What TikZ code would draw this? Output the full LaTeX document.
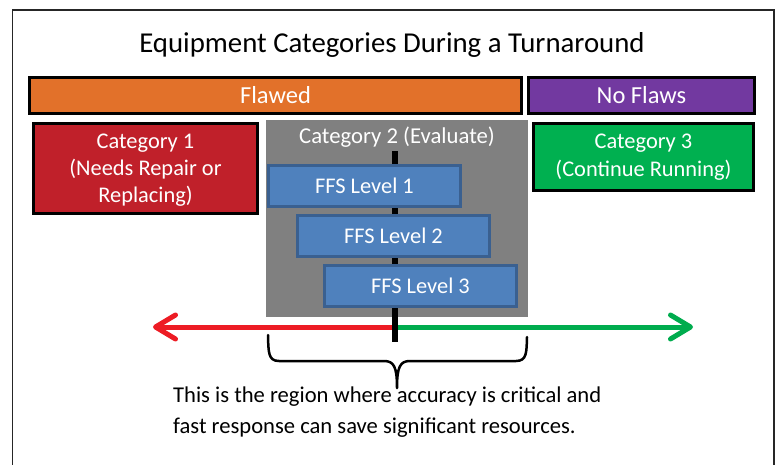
\documentclass[tikz,border=0pt]{standalone}
\usepackage{fontspec}
\setmainfont{Carlito}
\usetikzlibrary{arrows.meta}

\definecolor{flawedorange}{HTML}{E2712A}
\definecolor{noflawpurple}{HTML}{7239A0}
\definecolor{catred}{HTML}{C0202A}
\definecolor{catgreen}{HTML}{00B050}
\definecolor{evalgrey}{HTML}{808080}
\definecolor{ffsblue}{HTML}{4F81BD}
\definecolor{ffsedge}{HTML}{3A6090}
\definecolor{arrowred}{HTML}{ED1C24}
\definecolor{arrowgreen}{HTML}{00AC4E}

\begin{document}
\begin{tikzpicture}[x=1pt,y=-1pt,
  band/.style={draw=black, line width=3pt, text=white, inner sep=0pt,
    align=center, font=\fontsize{24.5}{28}\selectfont},
  catbox/.style={draw=black, line width=3pt, text=white, inner sep=0pt,
    align=center, font=\fontsize{22.4}{27.5}\selectfont},
  ffsbox/.style={draw=ffsedge, fill=ffsblue, line width=3pt, text=white,
    inner sep=0pt, minimum width=192pt, minimum height=41pt,
    font=\fontsize{22.4}{26}\selectfont},
  scalearrow/.style={line width=5pt,
    -{Straight Barb[length=20pt,width=24pt,round]}},
  notetext/.style={anchor=base west, inner sep=0pt,
    font=\fontsize{22.6}{31}\selectfont}]

\useasboundingbox (0,0) rectangle (781,464);
\clip (0,0) rectangle (781,464);

% outer frame (runs past the lower edge)
\draw[line width=1.5pt, black!85] (12.5,10) rectangle (774,490);

% title
\node[anchor=base, inner sep=0pt, font=\fontsize{28.8}{32}\selectfont]
  (title) at (392,52.7) {Equipment Categories During a Turnaround};

% top bands
\node[band, fill=flawedorange, minimum width=492pt, minimum height=36pt]
  (flawed) at (275.5,95.5) {Flawed};
\node[band, fill=noflawpurple, minimum width=226pt, minimum height=36pt]
  (noflaws) at (641.5,95.5) {No Flaws};

% categories
\node[catbox, fill=catred, minimum width=224pt, minimum height=90pt]
  (cat1) at (145.5,168) {};
\node[anchor=base, inner sep=0pt, text=white, align=center,
  font=\fontsize{22.4}{27}\selectfont]
  (cat1label) at (145.5,202) {Category 1\\(Needs Repair or\\Replacing)};
\node[fill=evalgrey, inner sep=0pt, minimum width=262pt, minimum height=197pt]
  (cat2) at (397,218.5) {};
\node[anchor=base, inner sep=0pt, text=white, font=\fontsize{22.7}{26}\selectfont]
  (cat2label) at (397,143) {Category 2 (Evaluate)};
\node[catbox, fill=catgreen, minimum width=220pt, minimum height=67pt]
  (cat3) at (643.5,157) {Category 3\\(Continue Running)};

% scale arrows
\coordinate (split) at (395,327);
\coordinate (leftend) at (153,327);
\coordinate (rightend) at (693,327);
\draw[scalearrow, arrowred] (split) -- (leftend);
\draw[scalearrow, arrowgreen] (split) -- (rightend);

% divider line
\coordinate (divtop) at (395,151);
\coordinate (divbot) at (395,342);
\draw[line width=6pt, black] (divtop) -- (divbot);

% FFS levels
\node[ffsbox] (ffs1) at (364.5,186) {FFS Level 1};
\node[ffsbox] (ffs2) at (393.5,235.5) {FFS Level 2};
\node[ffsbox] (ffs3) at (420.5,285.5) {FFS Level 3};

% brace under the evaluation region
\draw[line width=2.5pt, line join=round, line cap=round]
  (268,335) .. controls (268.5,352) and (268,361) .. (279,361)
  -- (384,361) .. controls (394,361) and (397,367) .. (397,388)
  .. controls (397,367) and (400,361) .. (410,361)
  -- (516,361) .. controls (527,361) and (526.5,352) .. (527,337);

% note
\node[notetext] (note1) at (173,402)
  {This is the region where accuracy is critical and};
\node[notetext] (note2) at (173,433)
  {fast response can save significant resources.};
\end{tikzpicture}
\end{document}
